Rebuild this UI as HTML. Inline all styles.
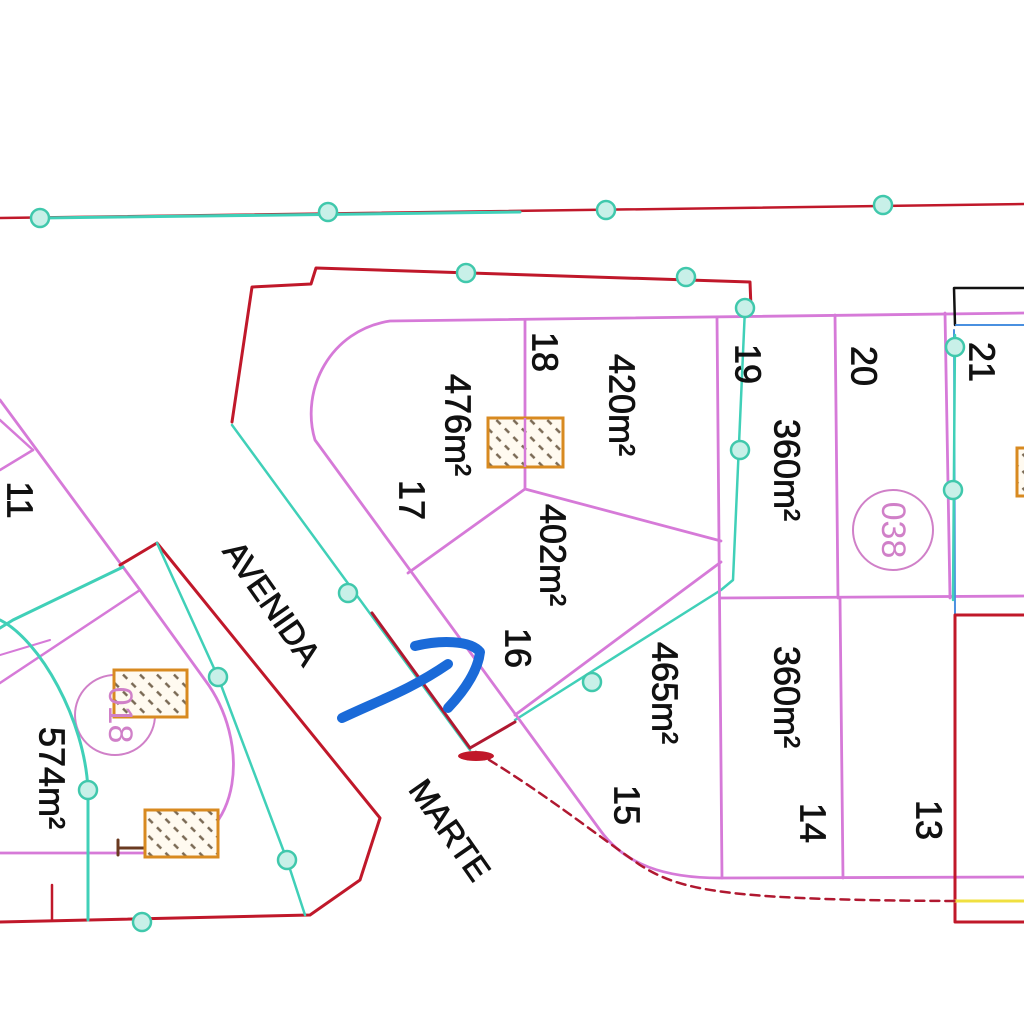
<!DOCTYPE html>
<html><head><meta charset="utf-8"><style>
html,body{margin:0;padding:0;background:#fff;}
svg{display:block;}
text{font-family:"Liberation Sans","DejaVu Sans",sans-serif;fill:#111;}
</style></head><body>
<svg width="1024" height="1024" viewBox="0 0 1024 1024" xmlns="http://www.w3.org/2000/svg">
<defs>
<pattern id="h" width="12" height="12" patternUnits="userSpaceOnUse" patternTransform="rotate(45)">
<rect width="12" height="12" fill="#fffaf0"/>
<line x1="0" y1="6" x2="6" y2="6" stroke="#7a6a55" stroke-width="2.5"/>
</pattern>
</defs>
<g fill="none" stroke-linecap="round" stroke-linejoin="round">
<line x1="0" y1="218" x2="1024" y2="204" stroke="#c0182a" stroke-width="2.5"/>
<line x1="40" y1="218" x2="520" y2="212" stroke="#40d0b8" stroke-width="3"/>

<polyline points="232,422 252,287 311,284 316,268 750,282 751,308" stroke="#c0182a" stroke-width="3"/>
<line x1="232" y1="425" x2="470" y2="750" stroke="#40d0b8" stroke-width="2.5"/>
<polyline points="745,308 733,580 721,590 515,720" stroke="#40d0b8" stroke-width="2.5"/>

<path d="M1024,313 L390,321 C330,330 300,390 315,440 L600,830 C625,865 665,878 720,878 L1024,877" stroke="#d67ad8" stroke-width="2.8"/>
<line x1="525" y1="320" x2="525" y2="489" stroke="#d67ad8" stroke-width="2.8"/>
<line x1="525" y1="489" x2="408" y2="573" stroke="#d67ad8" stroke-width="2.8"/>
<line x1="525" y1="489" x2="721" y2="541" stroke="#d67ad8" stroke-width="2.8"/>
<line x1="721" y1="562" x2="515" y2="715" stroke="#d67ad8" stroke-width="2.8"/>
<line x1="717" y1="318" x2="722" y2="878" stroke="#d67ad8" stroke-width="2.8"/>
<line x1="835" y1="315" x2="838" y2="598" stroke="#d67ad8" stroke-width="2.8"/>
<line x1="721" y1="598" x2="1024" y2="596" stroke="#d67ad8" stroke-width="2.8"/>
<line x1="840" y1="598" x2="843" y2="878" stroke="#d67ad8" stroke-width="2.8"/>
<line x1="945" y1="313" x2="950" y2="598" stroke="#d67ad8" stroke-width="2.8"/>

<polyline points="955,325 954,288 1024,288" stroke="#111" stroke-width="2.5"/>
<line x1="956" y1="325" x2="1024" y2="325" stroke="#4a90e0" stroke-width="2"/>
<line x1="954" y1="330" x2="955" y2="615" stroke="#4a90e0" stroke-width="2"/>
<line x1="955" y1="335" x2="953" y2="600" stroke="#40d0b8" stroke-width="2.5"/>
<polyline points="1024,615 955,615 955,922 1024,922" stroke="#c0182a" stroke-width="3"/>
<line x1="955" y1="901" x2="1024" y2="901" stroke="#f0e040" stroke-width="3"/>

<path d="M476,752 C540,790 590,830 640,865 C680,890 720,900 955,901" stroke="#b01830" stroke-width="2.5" stroke-dasharray="9,6"/>
<polyline points="372,613 470,748 515,722" stroke="#b01830" stroke-width="3"/>
<ellipse cx="476" cy="756" rx="18" ry="5" fill="#c0182a" stroke="none"/>

<path d="M342,718 C380,700 410,690 448,664 M415,646 C440,640 470,640 480,652 C478,670 465,690 448,708" stroke="#1a6ad8" stroke-width="10"/>

<path d="M0,400 L140,590 L205,680 C250,740 245,840 165,853 L0,853" stroke="#d67ad8" stroke-width="2.8"/>
<line x1="33" y1="450" x2="0" y2="470" stroke="#d67ad8" stroke-width="2.5"/>
<line x1="0" y1="420" x2="33" y2="450" stroke="#d67ad8" stroke-width="2.5"/>
<line x1="140" y1="590" x2="0" y2="683" stroke="#d67ad8" stroke-width="2.5"/>
<line x1="0" y1="655" x2="50" y2="640" stroke="#d67ad8" stroke-width="2"/>
<circle cx="115" cy="715" r="40" stroke="#d080c8" stroke-width="2"/>
<polyline points="120,565 157,543 380,818 360,880 310,915 0,922" stroke="#c0182a" stroke-width="3"/>
<line x1="52" y1="885" x2="52" y2="920" stroke="#c0182a" stroke-width="2.5"/>
<polyline points="123,567 13,620 0,628" stroke="#40d0b8" stroke-width="3"/>
<path d="M0,620 C40,640 85,720 88,790 L88,920" stroke="#40d0b8" stroke-width="3"/>
<polyline points="157,543 218,677 287,860 305,915" stroke="#40d0b8" stroke-width="2.5"/>
<line x1="118" y1="848" x2="145" y2="848" stroke="#6a3a20" stroke-width="3"/>
<line x1="118" y1="840" x2="118" y2="855" stroke="#6a3a20" stroke-width="3"/>
</g>

<g stroke="#d88a20" stroke-width="3" fill="url(#h)">
<rect x="488" y="418" width="75" height="49"/>
<rect x="114" y="670" width="73" height="47"/>
<rect x="145" y="810" width="73" height="47"/>
<rect x="1017" y="448" width="14" height="48"/>
</g>
<line x1="525" y1="418" x2="525" y2="467" stroke="#d67ad8" stroke-width="2.5"/>

<g fill="#c8f0e8" stroke="#40c8ac" stroke-width="2.5">
<circle cx="40" cy="218" r="9"/><circle cx="328" cy="212" r="9"/><circle cx="606" cy="210" r="9"/><circle cx="883" cy="205" r="9"/>
<circle cx="466" cy="273" r="9"/><circle cx="686" cy="277" r="9"/><circle cx="745" cy="308" r="9"/>
<circle cx="740" cy="450" r="9"/><circle cx="348" cy="593" r="9"/><circle cx="592" cy="682" r="9"/>
<circle cx="955" cy="347" r="9"/><circle cx="953" cy="490" r="9"/>
<circle cx="218" cy="677" r="9"/><circle cx="287" cy="860" r="9"/><circle cx="88" cy="790" r="9"/><circle cx="142" cy="922" r="9"/>
</g>
<circle cx="893" cy="530" r="40" fill="none" stroke="#d080c8" stroke-width="2"/>

<g font-size="36" stroke="#111" stroke-width="0.8">
<text transform="translate(545,352) rotate(90)" text-anchor="middle" dominant-baseline="central">18</text>
<text transform="translate(622,405) rotate(90)" text-anchor="middle" dominant-baseline="central">420m²</text>
<text transform="translate(458,425) rotate(90)" text-anchor="middle" dominant-baseline="central">476m²</text>
<text transform="translate(412,500) rotate(90)" text-anchor="middle" dominant-baseline="central">17</text>
<text transform="translate(553,555) rotate(90)" text-anchor="middle" dominant-baseline="central">402m²</text>
<text transform="translate(518,648) rotate(90)" text-anchor="middle" dominant-baseline="central">16</text>
<text transform="translate(665,693) rotate(90)" text-anchor="middle" dominant-baseline="central">465m²</text>
<text transform="translate(627,805) rotate(90)" text-anchor="middle" dominant-baseline="central">15</text>
<text transform="translate(748,364) rotate(90)" text-anchor="middle" dominant-baseline="central">19</text>
<text transform="translate(787,470) rotate(90)" text-anchor="middle" dominant-baseline="central">360m²</text>
<text transform="translate(864,366) rotate(90)" text-anchor="middle" dominant-baseline="central">20</text>
<text transform="translate(982,362) rotate(90)" text-anchor="middle" dominant-baseline="central">21</text>
<text transform="translate(787,697) rotate(90)" text-anchor="middle" dominant-baseline="central">360m²</text>
<text transform="translate(813,823) rotate(90)" text-anchor="middle" dominant-baseline="central">14</text>
<text transform="translate(929,820) rotate(90)" text-anchor="middle" dominant-baseline="central">13</text>
<text transform="translate(20,500) rotate(90)" text-anchor="middle" dominant-baseline="central">11</text>
<text transform="translate(52,778) rotate(90)" text-anchor="middle" dominant-baseline="central">574m²</text>
<text transform="translate(272,603) rotate(55)" text-anchor="middle" dominant-baseline="central" font-size="33">AVENIDA</text>
<text transform="translate(450,830) rotate(55)" text-anchor="middle" dominant-baseline="central" font-size="33">MARTE</text>
</g>
<g font-size="34">
<text transform="translate(893,530) rotate(90)" text-anchor="middle" dominant-baseline="central" style="fill:#d080c8">038</text>
<text transform="translate(120,715) rotate(90)" text-anchor="middle" dominant-baseline="central" style="fill:#d080c8">018</text>
</g>
</svg>
</body></html>
